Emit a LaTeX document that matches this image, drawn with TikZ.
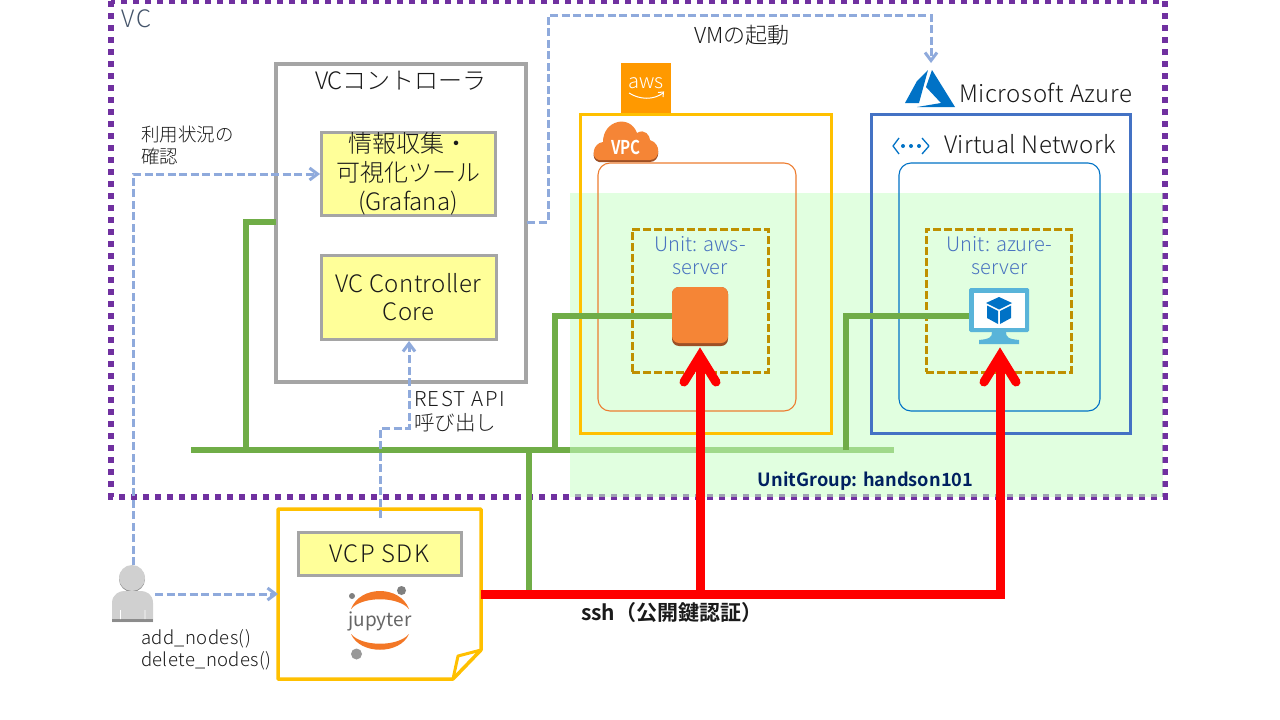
\documentclass[tikz,border=0pt]{standalone}
\usepackage{fontspec}
\setmainfont{Noto Sans CJK JP Light}[BoldFont={Noto Sans CJK JP Bold}]
\newfontfamily\regfont{Noto Sans CJK JP}
\newcommand{\lsp}[1]{\addfontfeature{LetterSpace=#1}}
\usetikzlibrary{arrows.meta,calc}
\definecolor{vcpurple}{HTML}{7030A0}
\definecolor{boxgray}{HTML}{A5A5A5}
\definecolor{paleyel}{HTML}{FFFF99}
\definecolor{amber}{HTML}{FFC000}
\definecolor{netgreen}{HTML}{70AD47}
\definecolor{flowblue}{HTML}{8FAADC}
\definecolor{azblue}{HTML}{4472C4}
\definecolor{awsor}{HTML}{F58536}
\definecolor{awsdark}{HTML}{9D5025}
\definecolor{awslogoc}{HTML}{FF9900}
\definecolor{vpcline}{HTML}{ED7D31}
\definecolor{jupor}{HTML}{F37726}
\definecolor{unitgold}{HTML}{BF9000}
\definecolor{msblue}{HTML}{0072C6}
\definecolor{vmblue}{HTML}{59B4D9}
\definecolor{navy}{HTML}{002060}
\definecolor{txt}{HTML}{1A1A1A}
\definecolor{slate}{HTML}{44546A}
\definecolor{bandc}{RGB}{201,255,198}
\definecolor{unittxt}{HTML}{4A74C0}
\definecolor{userlight}{HTML}{D0D0D0}
\definecolor{userdark}{HTML}{8C8C8C}
\tikzset{
 x=1pt,y=-1pt,
 every node/.style={inner sep=0pt,outer sep=0pt,text=txt,align=center},
 tool/.style={draw=boxgray,line width=3pt,fill=paleyel,minimum width=#1,anchor=north west},
 flow/.style={draw=flowblue,line width=3pt,dash pattern=on 8pt off 3.5pt},
 flowtip/.style={flow,-{Straight Barb[length=8pt,width=12pt,line width=3pt]}},
 net/.style={draw=netgreen,line width=5.5pt},
 ssh/.style={draw=red,line width=9pt,line join=miter},
 sshhead/.style={draw=red,line width=9pt,line cap=round,line join=miter},
 unitbox/.style={draw=unitgold,line width=3pt,dash pattern=on 8pt off 3pt},
 lab/.style 2 args={font=\fontsize{#1}{#2}\selectfont},
}
\begin{document}
\begin{tikzpicture}
\useasboundingbox (0,0) rectangle (1280,720);
\fill[white] (0,0) rectangle (1280,720);
% VC frame
\draw[vcpurple,line width=6pt,dash pattern=on 6pt off 6pt] (111,1) rectangle (1165,497);
\node[lab={24}{24},anchor=west,text=slate] (vc) at (121,19) {\lsp{12}VC};
% network bar (under the band)
\coordinate (barL) at (191,450);
\coordinate (barR) at (894,450);
\draw[net] (barL) -- (barR);
% unit group band
\fill[bandc,opacity=0.54] (570,193) rectangle (1163,497);
\node[text=navy,font=\bfseries\fontsize{18.2}{18.2}\selectfont,anchor=center] (ug) at (865.5,481) {UnitGroup: handson101};
% Controller
\node[draw=boxgray,line width=3.5pt,minimum width=250pt,minimum height=318pt,anchor=north west,fill=white] (ctl) at (276,64) {};
\node[lab={24}{24},anchor=center] (ctlt) at (401,81) {VCコントローラ};
\node[tool=174pt,minimum height=83pt,lab={24}{29}] (viz) at (321,132) {情報収集・\\可視化ツール\\(Grafana)};
\node[tool=175pt,minimum height=84pt,font=\fontsize{24}{28}\selectfont\lsp{1.5}] (core) at (321,255) {VC Controller\\Core};
% Net branches
\coordinate (ctlstub) at (276,222);
\coordinate (b1) at (246,450);
\draw[net] (b1) |- (ctlstub);
% AWS
\node[draw=amber,line width=3pt,minimum width=250.5pt,minimum height=319pt,anchor=north west] (awsbox) at (580.5,114.5) {};
\node[fill=awslogoc,minimum width=50pt,minimum height=50pt,anchor=north west] (awslogo) at (621,63) {};
\node[text=white,lab={20}{20},anchor=center] (awstxt) at (646,83) {aws};
\draw[white,line width=1pt] (629,93) .. controls (640,100) and (654,100) .. (663,93);
\draw[white,line width=1pt] (658,92.5) -- (663.5,92) -- (663,97);
% VPC cloud
\fill[awsdark] (599,162) .. controls (590,160) and (593,145) .. (603,144) .. controls (603,122) and (630,116) .. (637,135) .. controls (645,130) and (650,138) .. (650,142) .. controls (662,146) and (660,162) .. (650,162) -- cycle;
\fill[awsor] (599,160) .. controls (590,158) and (593,143) .. (603,142) .. controls (603,120) and (630,114) .. (637,133) .. controls (645,128) and (650,136) .. (650,140) .. controls (662,144) and (660,160) .. (650,160) -- cycle;
\node[text=white,anchor=center,xscale=.8,font=\bfseries\fontsize{19}{19}\selectfont] (vpc) at (626,147) {VPC};
\node[draw=vpcline,line width=1.1pt,rounded corners=12pt,minimum width=198pt,minimum height=248pt,anchor=north west] (vpcbox) at (598,163) {};
% Azure
\node[draw=azblue,line width=3pt,minimum width=259pt,minimum height=319pt,anchor=north west] (azbox) at (871,114) {};
\fill[msblue] (928,70) -- (917,81) -- (905,103) -- (919,103) -- cycle;
\fill[msblue] (932,70) -- (955,107) -- (917,107) -- (941,103) -- (926,87) -- cycle;
\node[lab={24}{24},anchor=west] (azt) at (959,93) {\lsp{2.5}Microsoft Azure};
\node[lab={24}{24},anchor=west] (vnt) at (944,144) {\lsp{1.4}Virtual Network};
\draw[msblue,line width=1.3pt,line join=round] (899,138) -- (893,146) -- (899,154) (922,138) -- (929,146) -- (922,154);
\fill[msblue] (903,146) circle (2pt) (911,146) circle (2pt) (919,146) circle (2pt);
\node[draw=msblue,line width=1.1pt,rounded corners=12pt,minimum width=201pt,minimum height=248pt,anchor=north west] (vnbox) at (899,163) {};
% Units
\node[unitbox,minimum width=136pt,minimum height=143pt,anchor=north west] (uaws) at (632,229) {};
\node[unitbox,minimum width=145pt,minimum height=143pt,anchor=north west] (uaz) at (926,229) {};
\node[lab={20}{23},text=unittxt,anchor=center] (uawst) at (700,256) {Unit: aws-\\server};
\node[lab={20}{23},text=unittxt,anchor=center] (uazt) at (999.5,256) {Unit: azure-\\server};
% AWS instance
\node[fill=awsdark,rounded corners=7pt,minimum width=56pt,minimum height=59pt,anchor=north west] (inst0) at (672,287) {};
\node[fill=awsor,rounded corners=7pt,minimum width=56pt,minimum height=56pt,anchor=north west] (inst) at (672,287) {};
% Azure VM
\node[fill=vmblue,rounded corners=1.5pt,minimum width=60pt,minimum height=44pt,anchor=north west] (vm) at (969,288) {};
\fill[white] (973.5,292.5) rectangle (1024.5,327.5);
\fill[vmblue] (992,332) -- (1006,332) .. controls (1006,337) and (1008,339) .. (1019,340) -- (1019,344) -- (979,344) -- (979,340) .. controls (990,339) and (992,337) .. (992,332) -- cycle;
\fill[msblue] (999,297) -- (1012,303) -- (999,309.5) -- (986,303) -- cycle;
\fill[msblue] (987,305.5) -- (998,311) -- (998,324) -- (987,318) -- cycle;
\fill[msblue] (1011,305.5) -- (1000,311) -- (1000,324) -- (1011,318) -- cycle;
% Branches to instances
\coordinate (b2) at (555,450);
\coordinate (b3) at (846,450);
\coordinate (b4) at (529,450);
\coordinate (instw) at (672,316);
\coordinate (vmw) at (969,316);
\draw[net] (b2) |- (instw);
\draw[net] (b3) |- (vmw);
% Notebook
\coordinate (nbssh) at (481,594);
\draw[amber,line width=3.5pt,line join=round,fill=white] (278,509) -- (481,509) -- (481,650) -- (453,679) -- (278,679) -- cycle;
\draw[amber,line width=3pt,line join=round] (481,650) -- (458,656) -- (453,679);
\coordinate (b4e) at (529,594);
\draw[net] (b4) -- (b4e);
\node[tool=163pt,minimum height=43pt,lab={24}{24}] (sdk) at (298,532) {\lsp{5.4}VCP SDK};
% jupyter logo
\fill[jupor] (351,609) .. controls (360,585) and (400,585) .. (409,609) .. controls (398,596) and (362,596) .. (351,609) -- cycle;
\fill[jupor] (351,634) .. controls (360,655) and (400,655) .. (409,634) .. controls (398,647) and (362,647) .. (351,634) -- cycle;
\fill[gray] (352,596) circle (3pt) (401.5,590.5) circle (4.5pt);
\fill[gray!80] (356.5,654) circle (5.5pt);
\node[text=gray!80!black,font=\regfont\fontsize{19}{19}\selectfont,anchor=center] (jup) at (380,621) {jupyter};
% SSH
\coordinate (s1) at (700,594);
\coordinate (s2) at (1000,594);
\coordinate (a1) at (700,356);
\coordinate (a2) at (1000,356);
\draw[ssh] (s1) -- (a1);
\draw[ssh] (nbssh) -- (s2) -- (a2);
\draw[sshhead] (684,382) -- (a1) -- (716,382);
\draw[sshhead] (984,382) -- (a2) -- (1016,382);
\node[font=\bfseries\fontsize{21}{21}\selectfont,anchor=west] (sshl) at (581,613) {ssh（公開鍵認証）};
% User
\fill[userdark] (132,579) circle (13pt);
\fill[userlight] (132,578) circle (13pt);
\fill[userlight] (112,622) -- (112,603) .. controls (112,594) and (120,591) .. (124,591) -- (141,591) .. controls (146,591) and (153,594) .. (153,603) -- (153,622) -- cycle;
\fill[userdark] (112,619) rectangle (153,622);
\fill[white] (120,610) rectangle (120.8,619) (144.5,610) rectangle (145.3,619);
% flows
\coordinate (uh) at (133,565);
\coordinate (uh2) at (155,594);
\coordinate (f1c) at (133,174);
\coordinate (vizw) at (320,174);
\coordinate (nbw) at (278,594);
\coordinate (nbt) at (380,518);
\coordinate (corep) at (409,341);
\coordinate (ctle) at (527,222);
\coordinate (azt2) at (931,63);
\draw[flowtip] (uh) -- (f1c) -- (vizw);
\draw[flowtip] (uh2) -- (nbw);
\draw[flowtip] (nbt) |- (380,428) -| (corep);
\draw[flowtip] (ctle) -- (548,222) -- (548,15) -- (931,15) -- (azt2);
% labels
\node[lab={18.5}{22},anchor=north west,align=left] (u1) at (141,126.5) {利用状況の\\確認};
\node[lab={20.5}{24},anchor=north west,align=left] (rest) at (414,391) {{\lsp{7}REST API}\\呼び出し};
\node[lab={22}{22},anchor=center] (vmst) at (742,35) {VMの起動};
\node[font=\fontsize{18.5}{22}\selectfont\lsp{2.2},anchor=north west,align=left] (addn) at (141,630) {add\_nodes()\\delete\_nodes()};
\end{tikzpicture}
\end{document}
